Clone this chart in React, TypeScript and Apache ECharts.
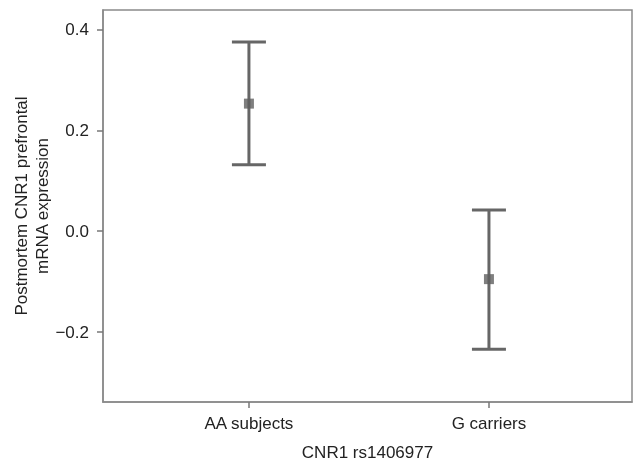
import React, { useEffect, useRef } from "react";
import * as echarts from "echarts";

const categories = ["AA subjects", "G carriers"];
const means = [0.253, -0.095];
const lowers = [0.132, -0.234];
const uppers = [0.375, 0.042];
const yTicks = [-0.2, 0.0, 0.2, 0.4];

export default function App() {
  const ref = useRef<HTMLDivElement>(null);
  useEffect(() => {
    const chart = echarts.init(ref.current!, undefined, { renderer: "svg" });
    const font = "'Liberation Sans', Arial, sans-serif";
    const fs = 17;
    const barData = categories.map((_, i) => [i, means[i], lowers[i], uppers[i]]);
    const axisLine = { show: true, onZero: false, lineStyle: { color: "#8a8a8a", width: 1.5 } };
    chart.setOption({
      animation: false,
      textStyle: { fontFamily: font },
      grid: {
        left: 103, top: 10, right: 2, bottom: 62,
        outerBoundsMode: "none", containLabel: false,
        show: true, borderColor: "#8a8a8a", borderWidth: 1.5, backgroundColor: "transparent",
      },
      xAxis: {
        type: "value", min: -0.608, max: 1.596,
        name: "CNR1 rs1406977", nameLocation: "middle", nameGap: 42,
        nameTextStyle: { fontSize: fs, color: "#222", fontFamily: font },
        axisLine,
        splitLine: { show: false },
        axisTick: { show: true, customValues: [0, 1], length: 6, lineStyle: { color: "#777", width: 1.5 } },
        axisLabel: {
          customValues: [0, 1], fontSize: fs, color: "#222", margin: 13, fontFamily: font,
          formatter: (v: number) => categories[Math.round(v)] ?? "",
        },
      },
      yAxis: {
        type: "value", min: -0.3386, max: 0.4386,
        name: "Postmortem CNR1 prefrontal\nmRNA expression", nameLocation: "middle", nameGap: 50,
        nameMoveOverlap: false,
        nameTextStyle: { fontSize: fs, color: "#222", lineHeight: 21, fontFamily: font },
        axisLine,
        splitLine: { show: false },
        axisTick: { show: true, customValues: yTicks, length: 6, lineStyle: { color: "#777", width: 1.5 } },
        axisLabel: {
          customValues: yTicks, fontSize: fs, color: "#222", margin: 14, fontFamily: font,
          formatter: (v: number) => (v < 0 ? "\u2212" + Math.abs(v).toFixed(1) : v.toFixed(1)),
        },
      },
      series: [
        {
          type: "custom",
          data: barData,
          renderItem: (params: any, api: any) => {
            const x = api.value(0);
            const lo = api.coord([x, api.value(2)]);
            const hi = api.coord([x, api.value(3)]);
            const hw = 17;
            const style = { stroke: "#666", lineWidth: 3 };
            return {
              type: "group",
              children: [
                { type: "line", shape: { x1: hi[0], y1: hi[1], x2: lo[0], y2: lo[1] }, style },
                { type: "line", shape: { x1: hi[0] - hw, y1: hi[1], x2: hi[0] + hw, y2: hi[1] }, style },
                { type: "line", shape: { x1: lo[0] - hw, y1: lo[1], x2: lo[0] + hw, y2: lo[1] }, style },
              ],
            };
          },
          z: 2,
        },
        {
          type: "scatter",
          data: categories.map((_, i) => [i, means[i]]),
          symbol: "rect",
          symbolSize: 10,
          itemStyle: { color: "#5f5f5f" },
          z: 3,
        },
      ],
    });
    return () => chart.dispose();
  }, []);
  return <div ref={ref} style={{ position: "fixed", left: 0, top: 0, width: 634, height: 464 }} />;
}
